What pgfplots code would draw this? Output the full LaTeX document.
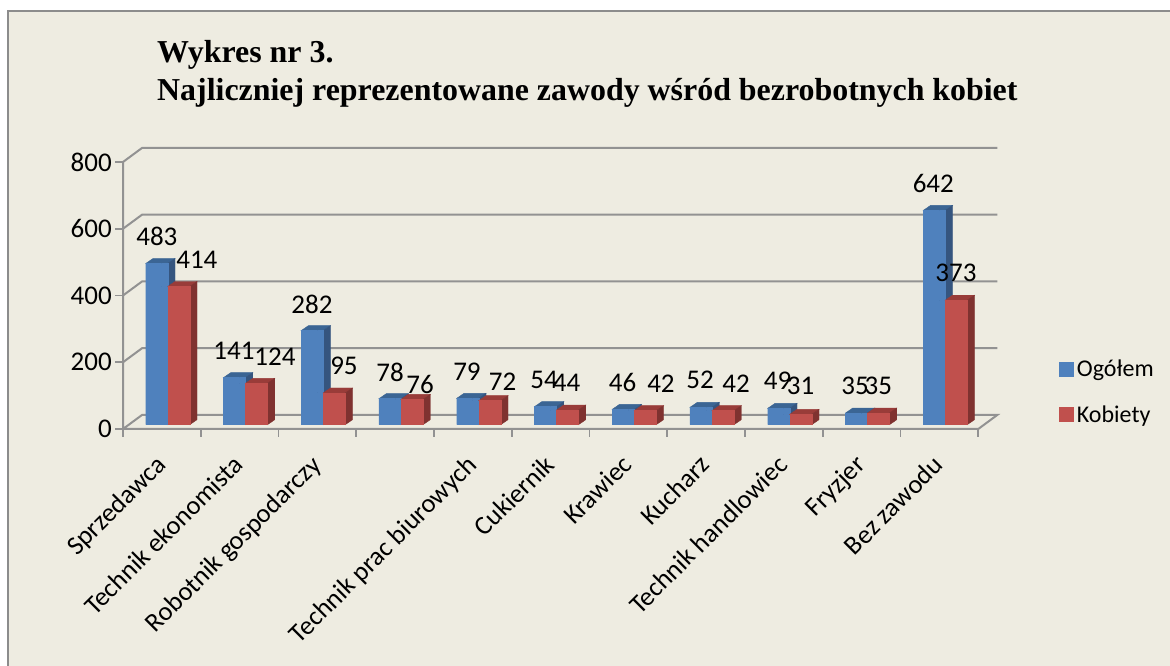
\documentclass[border=0pt]{standalone}
\usepackage{fontspec}
\setmainfont{Carlito}
\newfontfamily\titlefont{Liberation Serif}
\usepackage{pgfplots}
\usepackage{pgfplotstable}
\pgfplotsset{compat=1.18}
\definecolor{wall}{HTML}{EEECE1}
\definecolor{frameg}{HTML}{8C8C8C}
\definecolor{gridg}{HTML}{929292}
\definecolor{bfront}{HTML}{4F81BD}
\definecolor{bside}{HTML}{35557F}
\definecolor{btop}{HTML}{3B6594}
\definecolor{rfront}{HTML}{C0504D}
\definecolor{rside}{HTML}{7F3230}
\definecolor{rtop}{HTML}{993C39}
% x = category, y = value, dx/dy = label offset in px
\pgfplotstableread{
x y dx dy
0.5 483 -5 26.7
1.5 141 -5.6 26.7
2.5 282 -5.4 26.7
3.5 78 -5.1 26.7
4.5 79 -5.9 27
5.5 54 -6.6 26.7
6.5 46 -5.7 27
7.5 52 -6.1 27.4
8.5 49 -6.2 27.4
9.5 35 -6.6 27.3
10.5 642 -6.1 27.4
}\ogolem
\pgfplotstableread{
x y dx dy
0.5 414 35 26.7
1.5 124 35.4 27
2.5 95 26.6 27
3.5 76 25 15
4.5 72 29.8 18.7
5.5 44 16 27.6
6.5 42 32.6 27.4
7.5 42 30 27.4
8.5 31 16.8 28.4
9.5 35 16.7 27.3
10.5 373 16.6 27
}\kobiety
\pgfplotsset{
  barfaces/.style n args={5}{% left, right, front, side, top colour
    only marks, mark=*, mark size=0pt, scatter, yshift=4.3pt,
    visualization depends on={\thisrow{y}\as\val},
    scatter/@pre marker code/.code={%
      \fill[#5] (#1pt,0pt) -- (#1pt+7.3pt,5pt) -- (#2pt+7.3pt,5pt) -- (#2pt,0pt) -- cycle;
      \fill[#4] (#2pt,0pt) -- (#2pt+7.3pt,5pt) -- (#2pt+7.3pt,{(5-\val*0.33375)*1pt}) -- (#2pt,{-\val*0.33375*1pt}) -- cycle;
      \fill[#3] (#1pt,0pt) rectangle (#2pt,{-\val*0.33375*1pt});
      \begingroup
    },
    scatter/@post marker code/.code={\endgroup},
  },
  barlabels/.style={
    only marks, mark=*, mark size=0pt, yshift=4.3pt,
    visualization depends on={\thisrow{dx}\as\ldx},
    visualization depends on={\thisrow{dy}\as\ldy},
    nodes near coords,
    nodes near coords align=center,
    every node near coord/.append style={font=\fontsize{27}{28}\selectfont, text=black,
      inner sep=0pt, xshift=\ldx pt, yshift=\ldy pt,
      /pgf/number format/assume math mode=true, /pgf/number format/fixed, /pgf/number format/precision=0},
  },
  gridl/.style={gridg, line width=2pt, forget plot, mark=none},
}
\begin{document}
\begin{tikzpicture}
\useasboundingbox (0pt,0pt) rectangle (1170pt,666pt);
\fill[white] (0pt,0pt) rectangle (1170pt,666pt);
\fill[wall] (8pt,0pt) rectangle (1170pt,655pt);
\draw[frameg, line width=2pt] (8pt,0pt) -- (8pt,655pt) -- (1170pt,655pt);
\node[anchor=base west, inner sep=0pt, font=\titlefont\bfseries\fontsize{31.9}{34}\selectfont] at (157pt,603pt) {Wykres nr 3.};
\node[anchor=base west, inner sep=0pt, font=\titlefont\bfseries\fontsize{31.9}{34}\selectfont] at (157pt,565pt) {Najliczniej reprezentowane zawody wśród bezrobotnych kobiet};
\begin{axis}[
  at={(123pt,237pt)}, anchor=south west,
  x=77.75pt, y=0.33375pt,
  xmin=0, xmax=11.2444, ymin=0, ymax=842,
  clip=false,
  axis x line*=bottom, axis y line*=left,
  axis line style={draw=none},
  tick align=outside,
  tick style={gridg, line width=1.6pt},
  major tick length=8pt,
  xtick={0,...,11},
  x tick label as interval,
  xticklabels={Sprzedawca,Technik ekonomista,Robotnik gospodarczy,{},Technik prac biurowych,Cukiernik,Krawiec,Kucharz,Technik handlowiec,Fryzjer,Bez zawodu},
  ytick={0,200,400,600,800},
  /pgf/number format/assume math mode=true,
  tick label style={font=\fontsize{27}{28}\selectfont},
  xticklabel style={rotate=45, anchor=north east, font=\fontsize{26.5}{28}\selectfont, inner sep=0pt, yshift=-6pt, xshift=-17pt},
  yticklabel style={inner sep=0pt, xshift=-3pt},
  legend style={at={(axis cs:12.03,111)}, anchor=west, draw=none, fill=none, inner sep=0pt,
    font=\fontsize{24}{28}\selectfont, row sep=23pt, legend cell align=left,
    nodes={inner xsep=4pt}},
]
% walls and floor
\addplot[gridl] coordinates {(0,800)(0,0)(11,0)(11.2444,42)(0.2444,42)(0,0)};
\addplot[gridl] coordinates {(0,200)(0.2444,242)(11.2444,242)};
\addplot[gridl] coordinates {(0,400)(0.2444,442)(11.2444,442)};
\addplot[gridl] coordinates {(0,600)(0.2444,642)(11.2444,642)};
\addplot[gridl] coordinates {(0,800)(0.2444,842)(11.2444,842)};
% Ogolem
\addplot[ybar, bar width=22pt, bar shift=-5.15pt, yshift=4.3pt, fill=bfront, draw=none, forget plot] table[x=x,y=y] {\ogolem};
\addplot[barfaces={-16.15}{5.85}{bfront}{bside}{btop}, forget plot] table[x=x,y=y] {\ogolem};
% Kobiety
\addplot[ybar, bar width=22pt, bar shift=16.85pt, yshift=4.3pt, fill=rfront, draw=none, forget plot] table[x=x,y=y] {\kobiety};
\addplot[barfaces={5.85}{27.85}{rfront}{rside}{rtop}, forget plot] table[x=x,y=y] {\kobiety};
% data labels on top
\addplot[barlabels, forget plot] table[x=x,y=y] {\ogolem};
\addplot[barlabels, forget plot] table[x=x,y=y] {\kobiety};
\addlegendimage{legend image code/.code={\fill[bfront] (0pt,-7pt) rectangle (14pt,7pt);}}
\addlegendentry{Ogółem}
\addlegendimage{legend image code/.code={\fill[rfront] (0pt,-7pt) rectangle (14pt,7pt);}}
\addlegendentry{Kobiety}
\end{axis}
\end{tikzpicture}
\end{document}
